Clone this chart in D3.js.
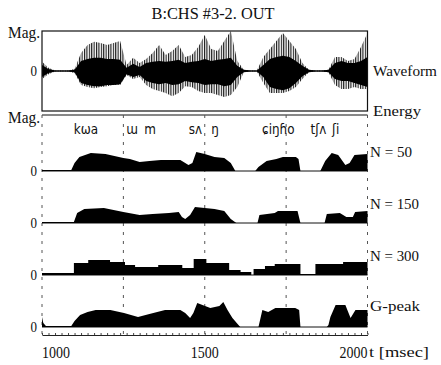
<!DOCTYPE html>
<html>
<head>
<meta charset="utf-8">
<script src="https://cdnjs.cloudflare.com/ajax/libs/d3/7.8.5/d3.min.js"></script>
<style>
  body { margin: 0; background: #fff; }
  svg { display: block; }
</style>
</head>
<body>
<script>
// waveform envelope (percent of full scale), one sample per 20 ms
var wfTime = [1000,1020,1040,1060,1080,1100,1120,1140,1160,1180,1200,1220,1240,1260,1280,1300,1320,1340,1360,1380,
  1400,1420,1440,1460,1480,1500,1520,1540,1560,1580,1600,1620,1640,1660,1680,1700,1720,1740,1760,1780,
  1800,1820,1840,1860,1880,1900,1920,1940,1960,1980,2000];
var wfSpikeUp = [23,8,1,1,1,5,45,65,73,70,65,70,75,15,33,20,30,45,65,40,
  50,65,35,40,60,90,55,50,75,100,25,3,1,1,35,55,75,95,75,55,
  20,3,1,1,3,35,35,25,30,60,95];
var wfCoreUp = [15,5,1,1,1,3,25,30,33,33,30,30,28,8,18,10,20,23,25,23,
  25,28,20,23,25,30,25,28,30,33,13,3,1,1,15,30,35,38,35,25,
  13,3,1,1,3,20,25,20,20,25,35];
var wfCoreLo = [-15,-5,-1,-1,-1,-3,-30,-35,-38,-38,-35,-35,-33,-8,-15,-10,-25,-30,-33,-30,
  -35,-33,-25,-28,-30,-35,-33,-33,-38,-35,-15,-3,-1,-1,-15,-40,-45,-48,-43,-30,
  -13,-3,-1,-1,-3,-20,-25,-25,-30,-35,-40];
var wfSpikeLo = [-20,-8,-1,-1,-1,-5,-35,-40,-43,-40,-38,-35,-35,-10,-20,-15,-35,-45,-50,-55,
  -63,-55,-38,-40,-50,-55,-55,-60,-65,-60,-40,-3,-1,-1,-30,-55,-55,-55,-50,-40,
  -20,-3,-1,-1,-3,-35,-45,-45,-40,-45,-45];

// short-time energy, arbitrary units
var n50Time = [1000,1090,1100,1115,1150,1195,1250,1270,1300,1330,1365,1425,1450,1462,1474,1500,1530,1560,1580,1594,
  1655,1665,1690,1720,1740,1780,1788,1794,1855,1870,1890,1910,1932,1945,1960,2000];
var n50Val = [1,1,8,14,18,17,13,12,9,10,11,11,6,8,19,17,14,13,8,0,
  0,4,10,12,14,14,12,0,0,10,18,16,6,8,16,17];

var n150Time = [1000,1098,1108,1130,1190,1250,1300,1340,1390,1420,1430,1440,1455,1470,1530,1560,1580,1597,
  1662,1668,1715,1725,1785,1794,1868,1875,1915,1935,1955,1962,2000];
var n150Val = [1,1,10,14,15,11,8,9,10,11,6,4,8,16,14,12,4,0,
  0,8,10,12,12,0,0,9,10,6,6,11,12];

var n300Time = [1000,1098,1142,1209,1255,1286,1357,1431,1466,1505,1575,1610,1643,1650,1685,1715,1794,1840,1925,2000];
var n300Val = [2,12,15,13,10,8,10,7,16,12,5,3,0,6,9,11,1,11,13,13];

var gpTime = [1000,1004,1012,1090,1100,1117,1140,1165,1210,1252,1295,1330,1378,1425,1440,1455,1465,1477,1517,1545,
  1557,1570,1585,1609,1665,1677,1695,1717,1778,1790,1794,1875,1880,1886,1902,1932,1948,1963,2000];
var gpVal = [10,4,1,1,6,12,15,17,17,14,10,13,17,17,14,9,14,24,19,21,
  25,17,9,0,0,17,15,19,19,17,0,0,2,10,22,22,9,17,17];

var trackNames = ["N = 50", "N = 150", "N = 300", "G-peak"];
var xLabels = [1000, 1500, 2000];
var gridTimes = [1250, 1500, 1750];
var phones = ["kωa", "ɯ", "m", "sʌ", "ŋ", "ɕiŋɦo", "tʃʌ", "ʃi"];
var phoneTime = [1135, 1277, 1332, 1471, 1532, 1726, 1849, 1902];

var W = 441, H = 365;
var left = 42, right = 367.5;
var svg = d3.select("body").append("svg").attr("width", W).attr("height", H);

var x = d3.scaleLinear().domain([1000, 2000]).range([left, right]);

// text helper: the scanned lettering is a bit taller than it is wide
function txt(px, py, s, o) {
  o = o || {};
  var t = svg.append("text")
    .attr("transform", "translate(" + px + "," + py + ") scale(1," + (o.sy || 1.2) + ")")
    .attr("font-family", o.ff || "'Liberation Serif', serif")
    .attr("font-size", o.fs || 13)
    .attr("text-anchor", o.anchor || "start")
    .attr("dy", "0.35em")
    .attr("fill", "#111")
    .text(s);
  if (o.w) t.attr("textLength", o.w).attr("lengthAdjust", "spacingAndGlyphs");
  return t;
}

// hatch for the light spikes of the waveform
var defs = svg.append("defs");
defs.append("pattern").attr("id", "hatch").attr("patternUnits", "userSpaceOnUse")
  .attr("width", 2.4).attr("height", 4)
  .append("rect").attr("width", 1.1).attr("height", 4).attr("fill", "#111");

// title
txt(213, 13, "B:CHS #3-2. OUT", { anchor: "middle", fs: 14, w: 123 });

// ---- waveform panel
var yW = d3.scaleLinear().domain([-100, 100]).range([111, 31]);
var wf = wfTime.map(function (t, i) {
  return { t: t, su: wfSpikeUp[i], cu: wfCoreUp[i], cl: wfCoreLo[i], sl: wfSpikeLo[i] };
});

svg.append("line").attr("x1", left).attr("x2", right).attr("y1", yW(0)).attr("y2", yW(0))
  .attr("stroke", "#111").attr("stroke-width", 1);

svg.append("path").datum(wf)
  .attr("d", d3.area().x(function (d) { return x(d.t); })
    .y0(function (d) { return yW(d.sl); }).y1(function (d) { return yW(d.su); }))
  .attr("fill", "url(#hatch)");

svg.append("path").datum(wf)
  .attr("d", d3.area().x(function (d) { return x(d.t); })
    .y0(function (d) { return yW(d.cl); }).y1(function (d) { return yW(d.cu); }))
  .attr("fill", "#000");

svg.append("rect").attr("x", left).attr("y", 31).attr("width", right - left).attr("height", 80)
  .attr("fill", "none").attr("stroke", "#111").attr("stroke-width", 1.2);

txt(40, 32, "Mag.", { anchor: "end", fs: 14, w: 32 });
txt(37, yW(0), "0", { anchor: "end", fs: 13 });
txt(373, yW(0), "Waveform", { fs: 13, w: 64 });

// ---- energy panel
var eTop = 115, eBottom = 335;
svg.append("line").attr("x1", left).attr("x2", right).attr("y1", eTop).attr("y2", eTop)
  .attr("stroke", "#111").attr("stroke-width", 1);
txt(40, 117, "Mag.", { anchor: "end", fs: 14, w: 32 });
txt(373, 111, "Energy", { fs: 13, w: 48 });

// dashed frame sides and grid
[left, right].forEach(function (px) {
  svg.append("line").attr("x1", px).attr("x2", px).attr("y1", eTop).attr("y2", eBottom)
    .attr("stroke", "#555").attr("stroke-width", 1).attr("stroke-dasharray", "3,6");
});
svg.selectAll("line.grid").data(gridTimes).enter().append("line")
  .attr("class", "grid")
  .attr("x1", function (d) { return x(d); }).attr("x2", function (d) { return x(d); })
  .attr("y1", eTop).attr("y2", eBottom)
  .attr("stroke", "#555").attr("stroke-width", 1).attr("stroke-dasharray", "3,6");

// phonetic transcription
phones.forEach(function (p, i) {
  txt(x(phoneTime[i]), 129, p, { anchor: "middle", fs: 12, ff: "'DejaVu Sans', sans-serif", sy: 1.1 });
});

var tracks = [
  { t: n50Time, v: n50Val, curve: d3.curveLinear },
  { t: n150Time, v: n150Val, curve: d3.curveLinear },
  { t: n300Time, v: n300Val, curve: d3.curveStepAfter },
  { t: gpTime, v: gpVal, curve: d3.curveLinear }
];
var trackY = d3.scalePoint().domain(trackNames).range([171, 327]);
var yE = d3.scaleLinear().domain([0, 30]).range([0, -30]);

tracks.forEach(function (tr, k) {
  var name = trackNames[k];
  var g = svg.append("g").attr("transform", "translate(0," + trackY(name) + ")");
  var pts = tr.t.map(function (t, i) { return [t, tr.v[i]]; });
  g.append("line").attr("x1", left).attr("x2", right).attr("y1", 0).attr("y2", 0)
    .attr("stroke", "#111").attr("stroke-width", 1);
  g.append("path").datum(pts)
    .attr("d", d3.area().curve(tr.curve)
      .x(function (d) { return x(d[0]); })
      .y0(yE(0)).y1(function (d) { return yE(d[1]); }))
    .attr("fill", "#000");
  txt(37, trackY(name), "0", { anchor: "end", fs: 13 });
  txt(370, trackY(name) - (k === 3 ? 21 : 19), name, { fs: 13, w: (k === 0 ? 42 : k === 3 ? 50 : 49) });
});

// ---- time axis
var minor = d3.range(1000, 2001, 20);
svg.append("g").attr("transform", "translate(0," + eBottom + ")")
  .call(d3.axisBottom(x).tickValues(minor).tickSize(-2).tickSizeOuter(0).tickFormat(""))
  .call(function (g) {
    g.select(".domain").attr("stroke", "#222");
    g.selectAll(".tick line").attr("stroke", "#444");
  });

xLabels.forEach(function (v, i) {
  txt(x(v), 352, String(v), { anchor: i === 0 ? "start" : i === 1 ? "middle" : "end", fs: 14 });
});
txt(369, 352, "t [msec]", { fs: 13, w: 60 });
</script>
</body>
</html>
